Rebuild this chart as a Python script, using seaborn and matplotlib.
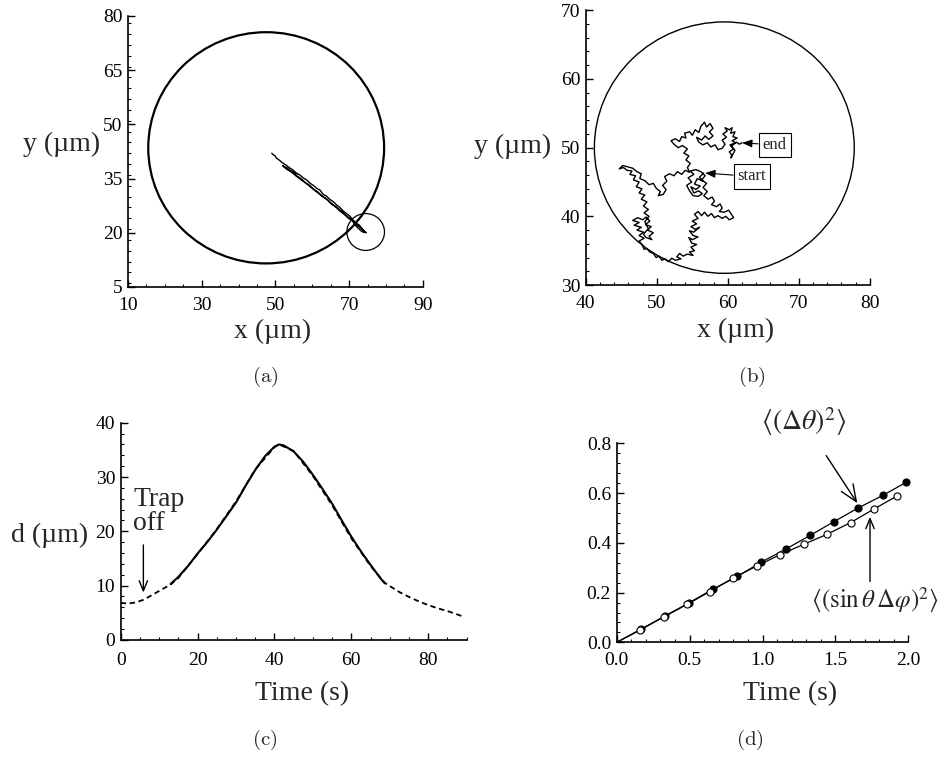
import matplotlib
matplotlib.use("Agg")
import matplotlib.pyplot as plt
import seaborn as sns
import pandas as pd
from matplotlib.patches import Circle
from matplotlib.ticker import MultipleLocator, FormatStrFormatter

# ---------------- data ----------------
# (a) trap region, small trap circle and trajectory
big_circle_a = (47.5, 43.5, 32.0)      # x, y, radius
small_circle_a = (74.5, 20.2, 5.1)
traj_a_x = [49.0, 49.4, 49.9, 50.3, 50.8, 51.4, 52.1, 52.9, 53.8, 54.7, 55.7, 56.6, 57.5,
            58.5, 59.4, 60.3, 61.2, 62.1, 63.0, 63.9, 64.8, 65.7, 66.6, 67.4, 68.3, 69.3,
            70.2, 71.1, 72.0, 72.9, 73.6, 74.3, 73.5, 72.4, 71.6, 70.8, 69.8, 68.6, 67.5,
            66.3, 65.1, 63.9, 62.8, 61.6, 60.4, 59.3, 58.1, 57.0, 55.9, 55.0, 54.1, 53.1,
            52.2, 52.0, 53.0, 54.2, 55.6, 57.2, 58.9, 60.6, 62.3, 64.0, 65.7, 67.3, 68.9,
            70.4, 71.8, 73.2, 74.7]
traj_a_y = [42.0, 41.6, 41.3, 40.6, 40.3, 39.8, 39.2, 38.7, 38.0, 37.4, 36.5, 36.0, 35.2,
            34.6, 33.7, 33.1, 32.3, 31.8, 30.6, 30.1, 29.2, 28.6, 27.7, 27.1, 26.1, 25.3,
            24.6, 23.5, 22.6, 22.0, 21.0, 20.0, 20.3, 21.3, 22.2, 23.4, 24.0, 25.2, 26.0,
            27.2, 28.0, 29.3, 30.0, 31.2, 32.0, 33.1, 33.9, 34.9, 35.7, 36.7, 37.2, 38.0,
            38.3, 38.6, 37.6, 36.9, 35.7, 34.5, 33.2, 31.8, 30.4, 29.2, 27.7, 26.5, 25.0,
            23.8, 22.5, 21.2, 20.0]

# (b) trap region and free-diffusion trajectory (x, y) read point by point
big_circle_b = (59.5, 50.0, 18.3)
traj_b = [
    (56.6, 46.3), (56.0, 45.7), (56.5, 45.1), (55.7, 45.5), (55.3, 44.7), (56.1, 44.4),
    (55.5, 43.9), (54.8, 44.3), (55.2, 43.4), (55.9, 43.7), (56.4, 43.3), (55.8, 42.9),
    (55.1, 43.0), (54.6, 43.7), (54.2, 44.5), (54.9, 45.0), (54.4, 45.6), (55.2, 46.1),
    (54.7, 46.6), (55.5, 46.8), (56.2, 46.5), (56.8, 45.9), (56.3, 45.3), (57.0, 44.8),
    (56.5, 44.2), (57.1, 43.6), (56.6, 43.0),
    (57.2, 42.5), (57.8, 42.8), (58.1, 42.2), (57.7, 41.7), (58.4, 41.4), (58.9, 41.8),
    (59.2, 41.2), (58.8, 40.7), (59.5, 40.6), (60.1, 40.9), (60.5, 40.3), (60.8, 39.8),
    (60.2, 39.5), (59.7, 40.0), (59.2, 39.7), (58.6, 40.1), (58.1, 39.8), (57.7, 40.4),
    (57.2, 40.0), (56.7, 40.6), (56.3, 40.1), (55.8, 40.7),
    (55.3, 40.3), (55.8, 39.7), (55.0, 39.3), (55.6, 38.9), (54.8, 38.5), (55.4, 38.1),
    (56.0, 38.4), (55.2, 37.7), (54.6, 37.9), (55.1, 37.2), (55.8, 37.0), (55.0, 36.6),
    (54.5, 36.9), (54.9, 36.1), (55.6, 35.9), (54.8, 35.5), (55.3, 35.0), (54.6, 34.8),
    (55.1, 34.3), (54.3, 34.5), (53.7, 34.2), (53.2, 34.6), (52.8, 34.1), (53.4, 33.8),
    (52.6, 33.6),
    (52.1, 33.9), (51.6, 33.4), (51.2, 33.8), (50.7, 33.6), (50.3, 34.2), (49.9, 34.0),
    (49.5, 34.6), (49.0, 34.8), (48.6, 35.3), (48.2, 35.2), (47.9, 35.9), (47.5, 36.4),
    (48.2, 36.8), (47.5, 37.2), (48.1, 37.7), (47.2, 38.0), (47.8, 38.4), (46.8, 38.7),
    (47.5, 39.1), (46.6, 39.4), (47.3, 39.8), (48.0, 39.5), (48.5, 39.9), (49.0, 39.3),
    (48.4, 38.8), (49.2, 38.5), (48.7, 38.0), (49.5, 37.6), (48.9, 37.1), (49.3, 36.6),
    (48.5, 36.9), (48.1, 37.4), (48.8, 38.2), (48.3, 39.2), (48.9, 40.0), (48.2, 40.5),
    (48.8, 41.0), (48.1, 41.5), (48.6, 42.1), (47.8, 42.5), (48.3, 43.1), (47.5, 43.4),
    (47.9, 44.0), (47.1, 44.3), (47.5, 45.0), (46.7, 45.3), (47.0, 45.9), (46.2, 46.1),
    (46.5, 46.6), (45.8, 46.7), (45.3, 47.1), (44.7, 46.9), (45.2, 47.4), (45.9, 47.2),
    (46.6, 47.0), (47.2, 46.5), (47.8, 46.2), (47.6, 45.5), (48.3, 45.2),
    (48.9, 44.6), (49.5, 44.8), (49.9, 44.1), (50.5, 43.6), (50.2, 43.0), (50.9, 43.2),
    (51.3, 43.9), (50.8, 44.5), (51.4, 45.1), (51.1, 45.8), (51.8, 46.2), (52.4, 45.9),
    (52.9, 46.5), (53.5, 46.1), (54.0, 46.7), (54.6, 46.4), (54.3, 47.1),
    (54.7, 47.7), (54.1, 48.2), (54.5, 48.8), (53.8, 49.2), (54.3, 49.8), (53.6, 50.3),
    (53.0, 50.0), (52.4, 50.5), (52.0, 51.0), (52.6, 51.3), (53.2, 50.9), (53.5, 51.6),
    (54.1, 51.4), (53.9, 52.1), (54.6, 52.3), (55.0, 51.8), (55.4, 52.6), (55.9, 52.2),
    (56.2, 53.1), (56.7, 53.7), (57.0, 53.0), (57.5, 53.5), (57.9, 52.8), (57.4, 52.3),
    (57.9, 51.7), (57.3, 51.2), (56.8, 51.7), (56.3, 51.1), (55.6, 51.5), (55.9, 50.8),
    (56.5, 50.4), (57.1, 50.7), (57.6, 50.1), (58.2, 50.4), (58.6, 49.7), (59.2, 49.9),
    (59.6, 50.5), (59.2, 51.1), (59.8, 51.5), (59.3, 52.0), (59.9, 52.4), (59.6, 52.9),
    (60.2, 52.6), (60.6, 52.9), (60.4, 52.1), (61.0, 52.3), (60.7, 51.6), (61.3, 51.4),
    (60.6, 51.0), (61.1, 50.7), (60.3, 50.4), (60.8, 49.8), (60.2, 49.4), (60.6, 48.8),
    (60.4, 48.5), (61.0, 49.6), (60.5, 50.2), (61.2, 50.8), (61.6, 50.5), (62.0, 50.7),
]
start_b = (56.8, 46.3)
end_b = (62.0, 50.7)

# (c) distance from trap centre vs time
fit_t = [13, 15, 17.5, 20, 22.5, 25, 27.5, 30, 32.5, 35, 37.5, 40, 41.2, 42.5, 45, 47.5,
         50, 52.5, 55, 57.5, 60, 62.5, 65, 67.5, 68.7]
fit_d = [10.3, 11.6, 13.6, 15.9, 18.0, 20.3, 22.8, 25.3, 28.4, 31.3, 33.8, 35.6, 36.0, 35.8,
         34.7, 32.8, 30.4, 27.8, 25.1, 22.0, 19.0, 16.3, 13.8, 11.4, 10.4]
meas_t = [0, 2, 4, 6, 8, 10, 12, 13, 15, 20, 25, 30, 35, 40, 41.2, 45, 50, 55, 60, 65,
          68.7, 70, 72.5, 75, 77.5, 80, 82.5, 85, 87.5, 89]
meas_d = [6.8, 6.7, 6.9, 7.4, 8.2, 9.0, 9.8, 10.2, 11.4, 15.8, 20.4, 25.5, 31.4, 35.5, 36.0,
          34.8, 30.2, 24.8, 18.7, 13.6, 10.5, 9.9, 8.8, 7.9, 7.1, 6.4, 5.8, 5.3, 4.7, 4.3]

# (d) angular mean square displacements
theta_t = [0.166, 0.331, 0.496, 0.660, 0.827, 0.992, 1.159, 1.326, 1.488, 1.657, 1.824, 1.986]
theta_msd = [0.053, 0.106, 0.159, 0.214, 0.265, 0.323, 0.375, 0.430, 0.485, 0.541, 0.591, 0.644]
phi_t = [0.160, 0.325, 0.484, 0.638, 0.800, 0.960, 1.118, 1.285, 1.440, 1.605, 1.763, 1.920]
phi_msd = [0.049, 0.103, 0.153, 0.204, 0.259, 0.307, 0.352, 0.395, 0.434, 0.482, 0.536, 0.588]

# ---------------- style ----------------
sns.set_theme(style="ticks")
plt.rcParams["font.family"] = ["Liberation Serif", "DejaVu Serif"]
plt.rcParams["mathtext.fontset"] = "stix"
plt.rcParams["axes.linewidth"] = 1.2
plt.rcParams["axes.edgecolor"] = "black"

TICK = 14
LABEL = 20

fig = plt.figure(figsize=(9.48, 7.59), dpi=100)


def style_axis(ax, xlim, ylim, xmaj, xmin, ymaj, ymin, xpad=7):
    ax.set_xlim(*xlim)
    ax.set_ylim(*ylim)
    ax.xaxis.set_major_locator(MultipleLocator(xmaj))
    ax.xaxis.set_minor_locator(MultipleLocator(xmin))
    ax.yaxis.set_major_locator(MultipleLocator(ymaj))
    ax.yaxis.set_minor_locator(MultipleLocator(ymin))
    ax.tick_params(which="both", direction="in", colors="black")
    ax.tick_params(which="major", length=5, width=1.0, labelsize=TICK, pad=4)
    ax.tick_params(axis="x", which="major", pad=xpad)
    ax.tick_params(which="minor", length=2.5, width=0.8)
    sns.despine(ax=ax)
    ax.set_facecolor("white")


def set_labels(ax, xl, xpos, yl=None, ypos=None):
    ax.set_xlabel(xl, fontsize=LABEL)
    ax.xaxis.set_label_coords(*xpos)
    ax.xaxis.label.set_va("center")
    if yl:
        ax.set_ylabel(yl, fontsize=LABEL, rotation=0, ha="right", va="center")
        ax.yaxis.set_label_coords(*ypos)
    else:
        ax.set_ylabel("")


ARROW = "->,head_length=0.6,head_width=0.25"

# ---------------- (a) ----------------
ax_a = fig.add_axes([0.135, 0.622, 0.311, 0.357])
style_axis(ax_a, (10, 90), (5, 80), 20, 5, 15, 3, xpad=7)
ax_a.set_xticks([10, 30, 50, 70, 90])
ax_a.set_yticks([5, 20, 35, 50, 65, 80])
ax_a.add_patch(Circle(big_circle_a[:2], big_circle_a[2], fill=False, ec="black", lw=1.6))
ax_a.add_patch(Circle(small_circle_a[:2], small_circle_a[2], fill=False, ec="black", lw=0.9))
df_a = pd.DataFrame({"x": traj_a_x, "y": traj_a_y})
sns.lineplot(data=df_a, x="x", y="y", sort=False, estimator=None, color="black", lw=1.0, ax=ax_a)
set_labels(ax_a, "x (µm)", (0.49, -0.165), "y (µm)", (-0.095, 0.524))

# ---------------- (b) ----------------
ax_b = fig.add_axes([0.618, 0.6245, 0.2996, 0.362])
style_axis(ax_b, (40, 80), (30, 70), 10, 2, 10, 2, xpad=7)
ax_b.add_patch(Circle(big_circle_b[:2], big_circle_b[2], fill=False, ec="black", lw=1.0))
df_b = pd.DataFrame(traj_b, columns=["x", "y"])
sns.lineplot(data=df_b, x="x", y="y", sort=False, estimator=None, color="black", lw=1.0, ax=ax_b)
box = dict(boxstyle="square,pad=0.25", fc="white", ec="black", lw=0.8)
arrow = dict(arrowstyle="-|>,head_length=0.5,head_width=0.2", color="black", lw=0.8,
             shrinkA=0, shrinkB=0)
ax_b.annotate("end", xy=end_b, xytext=(66.6, 50.4), fontsize=12, ha="center", va="center",
              bbox=box, arrowprops=arrow)
ax_b.annotate("start", xy=start_b, xytext=(63.4, 45.8), fontsize=12, ha="center", va="center",
              bbox=box, arrowprops=arrow)
set_labels(ax_b, "x (µm)", (0.528, -0.164), "y (µm)", (-0.123, 0.503))

# ---------------- (c) ----------------
ax_c = fig.add_axes([0.1273, 0.157, 0.365, 0.286])
style_axis(ax_c, (0, 90), (0, 40), 20, 5, 10, 2, xpad=9)
df_meas = pd.DataFrame({"t": meas_t, "d": meas_d})
df_fit = pd.DataFrame({"t": fit_t, "d": fit_d})
sns.lineplot(data=df_meas, x="t", y="d", color="black", lw=1.3, ax=ax_c,
             linestyle=(0, (3, 2)))
sns.lineplot(data=df_fit, x="t", y="d", color="black", lw=1.5, ax=ax_c)
ax_c.text(3.3, 23.6, "Trap\noff", fontsize=LABEL, ha="left", va="center", linespacing=0.95)
ax_c.annotate("", xy=(5.9, 8.2), xytext=(5.9, 18.0),
              arrowprops=dict(arrowstyle=ARROW, color="black", lw=1.0))
set_labels(ax_c, "Time (s)", (0.523, -0.247), "d (µm)", (-0.094, 0.4825))

# ---------------- (d) ----------------
ax_d = fig.add_axes([0.6505, 0.1537, 0.3077, 0.262])
style_axis(ax_d, (0, 2), (0, 0.8), 0.5, 0.1, 0.2, 0.04, xpad=7)
ax_d.xaxis.set_major_formatter(FormatStrFormatter("%.1f"))
ax_d.yaxis.set_major_formatter(FormatStrFormatter("%.1f"))
df_theta = pd.DataFrame({"t": [0] + theta_t, "msd": [0] + theta_msd})
df_phi = pd.DataFrame({"t": [0] + phi_t, "msd": [0] + phi_msd})
sns.lineplot(data=df_theta, x="t", y="msd", color="black", lw=0.9, ax=ax_d)
sns.lineplot(data=df_phi, x="t", y="msd", color="black", lw=0.9, ax=ax_d)
sns.scatterplot(x=theta_t, y=theta_msd, color="black", edgecolor="black", s=26, lw=0.8,
                ax=ax_d, clip_on=False, zorder=5)
sns.scatterplot(x=phi_t, y=phi_msd, color="white", edgecolor="black", s=26, lw=0.8,
                ax=ax_d, clip_on=False, zorder=5)
ax_d.annotate(r"$\left\langle\left(\Delta\theta\right)^{2}\right\rangle$", xy=(1.65, 0.56),
              xytext=(1.285, 0.887), fontsize=LABEL, ha="center", va="center",
              annotation_clip=False,
              arrowprops=dict(arrowstyle=ARROW, color="black", lw=1.0, shrinkA=12, shrinkB=0))
ax_d.annotate(r"$\left\langle\left(\sin\theta\,\Delta\varphi\right)^{2}\right\rangle$",
              xy=(1.737, 0.505), xytext=(1.33, 0.17), fontsize=18, ha="left", va="center",
              annotation_clip=False)
ax_d.annotate("", xy=(1.737, 0.505), xytext=(1.737, 0.245), annotation_clip=False,
              arrowprops=dict(arrowstyle=ARROW, color="black", lw=1.0, shrinkA=0, shrinkB=0))
set_labels(ax_d, "Time (s)", (0.594, -0.256))

# ---------------- captions ----------------
for label, x, y in [("(a)", 265, 377), ("(b)", 752, 377), ("(c)", 265, 740), ("(d)", 750, 740)]:
    fig.text(x / 948, 1 - y / 759, r"$\mathrm{%s}$" % label, math_fontfamily="cm",
             fontsize=15, ha="center", va="center")

fig.savefig("out.png", dpi=100, facecolor="white")
